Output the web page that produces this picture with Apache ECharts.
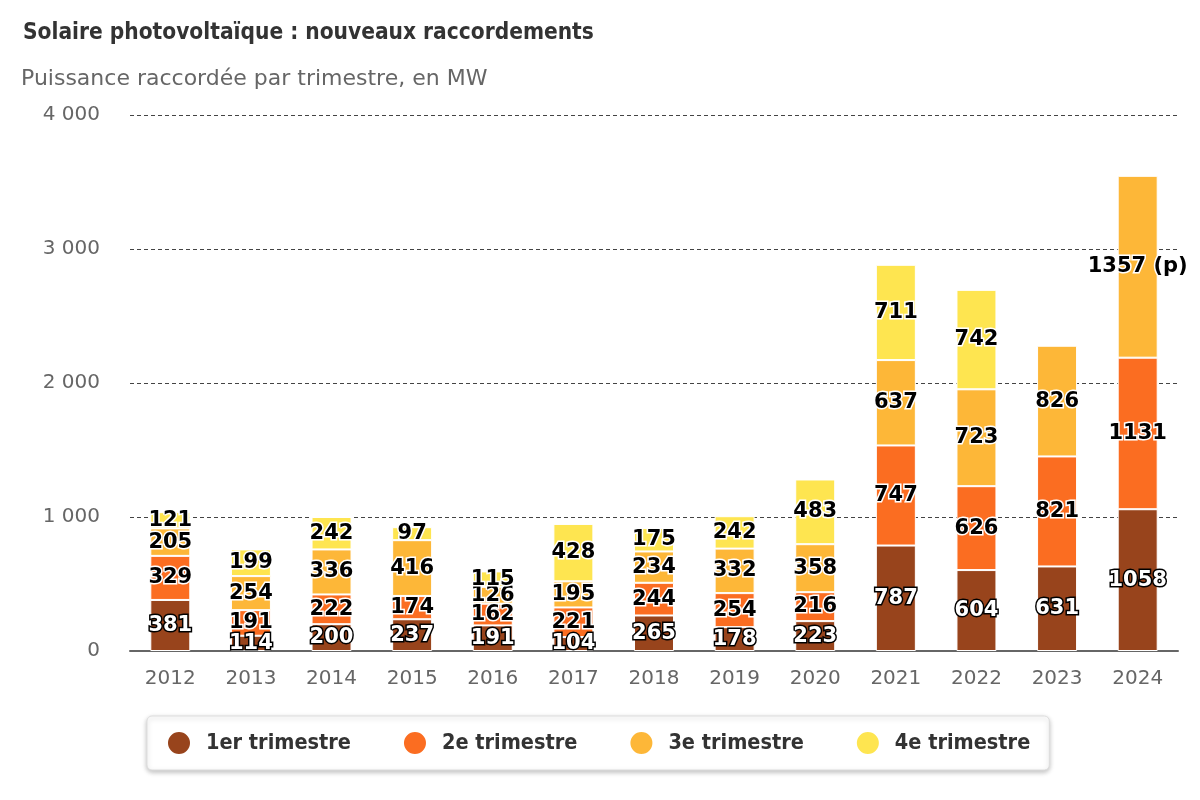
<!DOCTYPE html>
<html>
<head>
<meta charset="utf-8">
<script src="https://cdn.jsdelivr.net/npm/echarts@6/dist/echarts.min.js"></script>
<style>
  html, body { margin: 0; padding: 0; background: #fff; }
  #chart { width: 1200px; height: 800px; }
</style>
</head>
<body>
<div id="chart"></div>
<script>
const years = ['2012', '2013', '2014', '2015', '2016', '2017', '2018', '2019', '2020', '2021', '2022', '2023', '2024'];
const q1 = [381, 114, 200, 237, 191, 104, 265, 178, 223, 787, 604, 631, 1058];
const q2 = [329, 191, 222, 174, 162, 221, 244, 254, 216, 747, 626, 821, 1131];
const q3 = [205, 254, 336, 416, 126, 195, 234, 332, 358, 637, 723, 826, 1357];
const q4 = [121, 199, 242, 97, 115, 428, 175, 242, 483, 711, 742, null, null];
const seriesNames = ['1er trimestre', '2e trimestre', '3e trimestre', '4e trimestre'];
const colors = ['#98441c', '#fb6d21', '#fdb738', '#fee550'];
const provisional = { series: 2, index: 12 };

const chart = echarts.init(document.getElementById('chart'));
const font = '"DejaVu Sans", sans-serif';
const condensed = '"DejaVu Sans Condensed", "DejaVu Sans", sans-serif';

const makeSeries = (name, data, i) => ({
  name,
  type: 'bar',
  stack: 'total',
  barWidth: 40,
  data: data.map((v, j) => {
    if (v == null) return null;
    if (i === provisional.series && j === provisional.index) {
      return { value: v, label: { formatter: v + ' (p)' } };
    }
    return v;
  }),
  itemStyle: { color: colors[i], borderColor: '#fff', borderWidth: 1 },
  label: {
    show: true,
    position: 'inside',
    fontFamily: font,
    fontSize: 21,
    fontWeight: 'bold',
    color: i === 0 ? '#fff' : '#000',
    textBorderColor: i === 0 ? '#000' : '#fff',
    textBorderWidth: 3
  }
});

chart.setOption({
  animation: false,
  textStyle: { fontFamily: font },
  title: [
    {
      text: 'Solaire photovoltaïque : nouveaux raccordements',
      left: 18, top: 17,
      textStyle: { fontSize: 22.5, fontWeight: 'bold', color: '#333', fontFamily: condensed }
    },
    {
      text: 'Puissance raccordée par trimestre, en MW',
      left: 16, top: 63,
      textStyle: { fontSize: 22, fontWeight: 'normal', color: '#666', fontFamily: font }
    }
  ],
  legend: {
    data: seriesNames,
    left: 147, top: 716,
    width: 906,
    padding: [14, 19, 14, 19],
    itemGap: 51,
    icon: 'circle',
    itemWidth: 24, itemHeight: 24,
    backgroundColor: '#fff',
    borderColor: '#ddd',
    borderWidth: 1,
    borderRadius: 5,
    shadowColor: 'rgba(0,0,0,0.25)',
    shadowBlur: 5,
    shadowOffsetY: 2,
    textStyle: { fontSize: 21.5, color: '#333', fontFamily: condensed, fontWeight: 'bold', padding: [0, 0, 0, 10] }
  },
  grid: { left: 130, right: 22, top: 115, bottom: 149, containLabel: false },
  xAxis: {
    type: 'category',
    data: years,
    axisLine: { lineStyle: { color: '#666', width: 2 } },
    axisTick: { show: false },
    axisLabel: { fontSize: 20, color: '#666', margin: 18, fontFamily: font }
  },
  yAxis: {
    type: 'value',
    min: 0, max: 4000, interval: 1000,
    axisLine: { show: false },
    axisTick: { show: false },
    splitLine: { lineStyle: { color: '#444', type: [4, 3], width: 1 } },
    axisLabel: {
      fontSize: 20, color: '#666', margin: 30, fontFamily: font,
      formatter: v => String(v).replace(/\B(?=(\d{3})+(?!\d))/g, ' ')
    }
  },
  series: [
    makeSeries(seriesNames[0], q1, 0),
    makeSeries(seriesNames[1], q2, 1),
    makeSeries(seriesNames[2], q3, 2),
    makeSeries(seriesNames[3], q4, 3)
  ]
});
</script>
</body>
</html>
